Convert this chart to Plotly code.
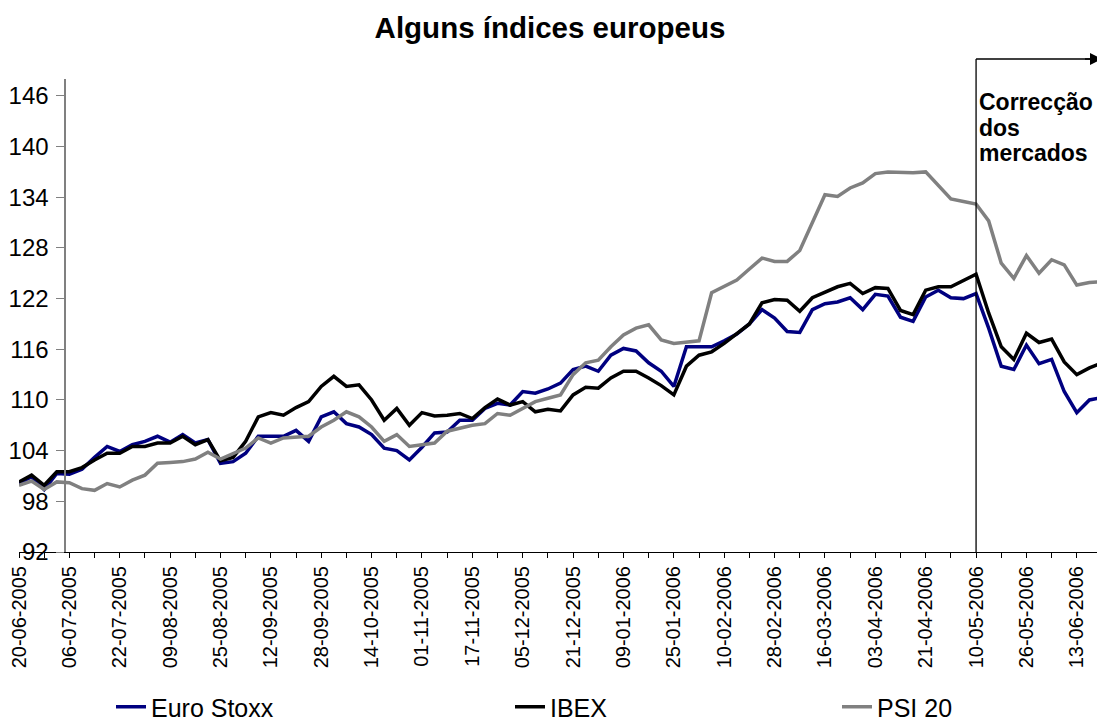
import plotly.graph_objects as go

# Business-day index (0 = 20-06-2005); one label every 12 trading days
tick_labels = [
    "20-06-2005", "06-07-2005", "22-07-2005", "09-08-2005", "25-08-2005",
    "12-09-2005", "28-09-2005", "14-10-2005", "01-11-2005", "17-11-2005",
    "05-12-2005", "21-12-2005", "09-01-2006", "25-01-2006", "10-02-2006",
    "28-02-2006", "16-03-2006", "03-04-2006", "21-04-2006", "10-05-2006",
    "26-05-2006", "13-06-2006",
]
label_step = 12
last_day = 258
axis_cross_day = 11          # vertical axis crosses the category axis here
correction_label = "10-05-2006"
correction_text = ["Correcção", "dos", "mercados"]

# sampled trading days (every 3rd session)
sample_day = list(range(0, last_day + 1, 3))

euro_stoxx = [
    100.1, 100.9, 99.4, 101.3, 101.2, 101.8, 103.2, 104.5, 103.9, 104.7,
    105.1, 105.7, 105.0, 105.9, 104.9, 105.3, 102.5, 102.7, 103.7, 105.7,
    105.7, 105.7, 106.4, 105.1, 108.0, 108.6, 107.2, 106.8, 105.9, 104.3,
    104.0, 102.9, 104.4, 106.1, 106.2, 107.6, 107.6, 109.0, 109.6, 109.4,
    111.0, 110.8, 111.3, 112.0, 113.6, 114.0, 113.4, 115.3, 116.1, 115.8,
    114.4, 113.4, 111.6, 116.3, 116.3, 116.3, 117.0, 117.8, 119.0, 120.7,
    119.7, 118.1, 118.0, 120.7, 121.4, 121.6, 122.1, 120.7, 122.5, 122.3,
    119.8, 119.3, 122.2, 123.0, 122.1, 122.0, 122.6, 118.5, 114.0, 113.6,
    116.5, 114.3, 114.8, 111.0, 108.5, 110.0, 110.3,
]
ibex = [
    100.3, 101.1, 99.9, 101.5, 101.5, 102.0, 102.9, 103.7, 103.7, 104.5,
    104.5, 104.9, 104.9, 105.7, 104.7, 105.3, 102.8, 103.2, 105.1, 108.0,
    108.5, 108.2, 109.1, 109.8, 111.6, 112.8, 111.6, 111.8, 110.0, 107.6,
    109.0, 107.0, 108.5, 108.1, 108.2, 108.4, 107.8, 109.1, 110.1, 109.4,
    109.8, 108.6, 108.9, 108.7, 110.6, 111.5, 111.4, 112.6, 113.4, 113.4,
    112.6, 111.7, 110.6, 114.0, 115.3, 115.7, 116.7, 117.8, 119.0, 121.5,
    121.9, 121.8, 120.5, 122.1, 122.8, 123.4, 123.8, 122.6, 123.3, 123.2,
    120.6, 120.1, 123.0, 123.4, 123.4, 124.2, 124.9, 120.3, 116.3, 114.8,
    117.9, 116.8, 117.2, 114.5, 113.0, 113.8, 114.4,
]
psi20 = [
    99.9, 100.4, 99.4, 100.3, 100.2, 99.5, 99.3, 100.1, 99.7, 100.5,
    101.1, 102.5, 102.6, 102.7, 103.0, 103.8, 103.0, 103.6, 104.3, 105.5,
    104.9, 105.5, 105.6, 105.7, 106.8, 107.6, 108.6, 108.0, 106.8, 105.1,
    105.9, 104.5, 104.7, 104.9, 106.3, 106.7, 107.0, 107.2, 108.4, 108.2,
    109.0, 109.8, 110.2, 110.6, 113.0, 114.4, 114.7, 116.3, 117.7, 118.5,
    118.9, 117.1, 116.7, 116.9, 117.0, 122.7, 123.4, 124.2, 125.5, 126.8,
    126.4, 126.4, 127.7, 131.0, 134.3, 134.1, 135.1, 135.7, 136.8, 137.0,
    136.9, 136.9, 137.0, 135.4, 133.8, 133.5, 133.2, 131.2, 126.2, 124.4,
    127.1, 125.0, 126.6, 126.0, 123.6, 123.9, 124.0,
]

series = [
    ("Euro Stoxx", euro_stoxx, "#000080", "legend"),
    ("IBEX", ibex, "#000000", "legend2"),
    ("PSI 20", psi20, "#808080", "legend3"),
]

FONT = "Liberation Sans, Arial, sans-serif"

fig = go.Figure()
for name, vals, color, leg in series:
    fig.add_trace(go.Scatter(
        x=sample_day, y=vals, name=name, mode="lines",
        line=dict(color=color, width=3.5), legend=leg,
    ))

major_ticks = [i * label_step for i in range(len(tick_labels))]
corr_day = tick_labels.index(correction_label) * label_step

# page body adds an 8px offset; size the figure to fit the 1105x721 window
OFF = 8
W, H = 1105 - OFF, 721 - OFF
ml, mr, mt, mb = 19 - OFF, 3, 79 - OFF, 169
plot_w = W - ml - mr
plot_h = H - mt - mb

def px_to_paper_x(p):          # p: pixel in the 1105x721 window
    return (p - OFF - ml) / plot_w

def px_to_paper_y(p):
    return (H - mb - (p - OFF)) / plot_h

top_y = px_to_paper_y(59)

fig.update_layout(
    width=W, height=H,
    margin=dict(l=ml, r=mr, t=mt, b=mb, autoexpand=False),
    paper_bgcolor="white", plot_bgcolor="white",
    font=dict(family=FONT, color="black"),
    title=dict(
        text="Alguns índices europeus",
        x=(550 - OFF) / W, xanchor="center", xref="container",
        y=1 - (28 - OFF) / H, yanchor="middle", yref="container",
        font=dict(size=29.5, family=FONT, color="black", weight="bold"),
    ),
    xaxis=dict(
        range=[0, last_day], domain=[0, 1], automargin=False,
        tickmode="array", tickvals=major_ticks, ticktext=tick_labels,
        tickangle=-90, ticks="outside", ticklen=5, tickcolor="black",
        ticklabeloverflow="allow",
        tickfont=dict(size=20, family=FONT, color="black"),
        showline=True, linecolor="black", linewidth=1,
        showgrid=False, zeroline=False,
        minor=dict(dtick=6, tick0=0, ticks="outside", ticklen=5,
                   tickcolor="black", showgrid=False),
    ),
    yaxis=dict(
        range=[92, 148], tick0=92, dtick=6, automargin=False,
        anchor="free", position=axis_cross_day / last_day,
        ticks="outside", ticklen=8, tickcolor="#808080",
        ticklabelstandoff=3, ticklabeloverflow="allow",
        tickfont=dict(size=24, family=FONT, color="black"),
        showline=True, linecolor="#808080", linewidth=1.5,
        showgrid=False, zeroline=False,
    ),
    showlegend=True,
)

leg_common = dict(orientation="h", yanchor="middle", xanchor="left",
                  font=dict(size=25, family=FONT, color="black"),
                  bgcolor="rgba(0,0,0,0)", itemwidth=30)
fig.update_layout(
    legend=dict(x=px_to_paper_x(111), y=px_to_paper_y(707), **leg_common),
    legend2=dict(x=px_to_paper_x(510), y=px_to_paper_y(707), **leg_common),
    legend3=dict(x=px_to_paper_x(837), y=px_to_paper_y(707), **leg_common),
)

# market-correction marker: vertical line + arrow to the right
fig.add_shape(type="line", xref="x", yref="paper",
              x0=corr_day, x1=corr_day, y0=0, y1=top_y,
              line=dict(color="black", width=1.3))
fig.add_shape(type="line", xref="x", yref="paper",
              x0=corr_day, x1=last_day, y0=top_y, y1=top_y,
              line=dict(color="black", width=1.3))
fig.add_annotation(xref="x", yref="paper", x=last_day, y=top_y,
                   axref="pixel", ax=-20, ayref="pixel", ay=0,
                   text=" ", showarrow=True, arrowhead=2, arrowsize=1.6,
                   arrowwidth=1.5, arrowcolor="black")
for i, line_txt in enumerate(correction_text):
    fig.add_annotation(xref="x", yref="paper", x=corr_day,
                       y=px_to_paper_y(102 + 25.5 * i),
                       xanchor="left", yanchor="middle", align="left",
                       showarrow=False, text=line_txt, xshift=1,
                       font=dict(size=23, family=FONT, color="black",
                                 weight="bold"))

fig.write_html("out.html")
